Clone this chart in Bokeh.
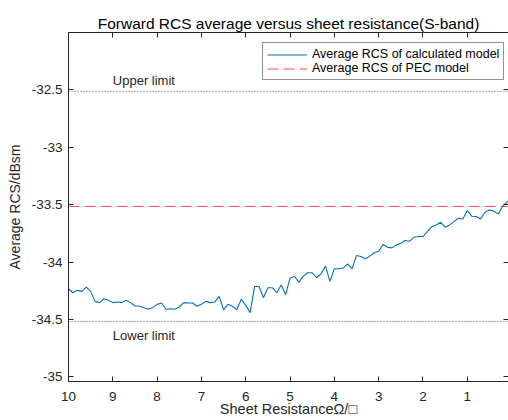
from bokeh.plotting import figure
from bokeh.models import (Range1d, FixedTicker, LinearAxis, Legend, LegendItem, Label,
                          CustomLabelingPolicy)
from bokeh.embed import file_html
from bokeh.resources import INLINE

# Sheet resistance sweep (ohm/sq), 10 down to 0 in steps of 0.1
sheet_resistance = [
    10.0, 9.9, 9.8, 9.7, 9.6, 9.5, 9.4, 9.3, 9.2, 9.1,
    9.0, 8.9, 8.8, 8.7, 8.6, 8.5, 8.4, 8.3, 8.2, 8.1,
    8.0, 7.9, 7.8, 7.7, 7.6, 7.5, 7.4, 7.3, 7.2, 7.1,
    7.0, 6.9, 6.8, 6.7, 6.6, 6.5, 6.4, 6.3, 6.2, 6.1,
    6.0, 5.9, 5.8, 5.7, 5.6, 5.5, 5.4, 5.3, 5.2, 5.1,
    5.0, 4.9, 4.8, 4.7, 4.6, 4.5, 4.4, 4.3, 4.2, 4.1,
    4.0, 3.9, 3.8, 3.7, 3.6, 3.5, 3.4, 3.3, 3.2, 3.1,
    3.0, 2.9, 2.8, 2.7, 2.6, 2.5, 2.4, 2.3, 2.2, 2.1,
    2.0, 1.9, 1.8, 1.7, 1.6, 1.5, 1.4, 1.3, 1.2, 1.1,
    1.0, 0.9, 0.8, 0.7, 0.6, 0.5, 0.4, 0.3, 0.2, 0.1,
    0.0,
]

# Average forward RCS of the calculated model (dBsm)
average_rcs = [
    -34.232, -34.267, -34.246, -34.255, -34.217, -34.255, -34.342, -34.353, -34.319, -34.333,
    -34.353, -34.348, -34.353, -34.333, -34.353, -34.382, -34.382, -34.397, -34.411, -34.397,
    -34.368, -34.356, -34.411, -34.406, -34.411, -34.391, -34.353, -34.356, -34.356, -34.385,
    -34.368, -34.342, -34.353, -34.348, -34.298, -34.414, -34.368, -34.385, -34.414, -34.324,
    -34.377, -34.440, -34.212, -34.212, -34.310, -34.223, -34.223, -34.267, -34.200, -34.284,
    -34.139, -34.125, -34.174, -34.122, -34.093, -34.093, -34.136, -34.102, -34.035, -34.168,
    -34.058, -34.058, -34.052, -34.015, -34.058, -33.942, -33.951, -33.971, -33.948, -33.919,
    -33.905, -33.847, -33.870, -33.876, -33.850, -33.835, -33.812, -33.818, -33.783, -33.777,
    -33.777, -33.734, -33.690, -33.676, -33.653, -33.696, -33.676, -33.647, -33.618, -33.624,
    -33.551, -33.600, -33.603, -33.624, -33.566, -33.545, -33.557, -33.580, -33.514, -33.473,
    -33.450,
]

# Reference levels (dBsm)
pec_rcs = -33.515
upper_limit = -32.512
lower_limit = -34.518

x_ticks = [10, 9, 8, 7, 6, 5, 4, 3, 2, 1, 0]
x_tick_labels = ["10", "9", "8", "7", "6", "5", "4", "3", "2", "1", "0"]
y_ticks = [-35.0, -34.5, -34.0, -33.5, -33.0, -32.5]
y_tick_labels = ["-35", "-34.5", "-34", "-33.5", "-33", "-32.5"]

FONT = "Liberation Sans"
INK = "#262626"

p = figure(width=508, height=420, output_backend="svg", toolbar_location=None,
           x_range=Range1d(10, 0.07), y_range=Range1d(-35.04, -32.0),
           min_border_left=68, min_border_right=0, min_border_top=32, min_border_bottom=39,
           title="Forward RCS average versus sheet resistance(S-band)")
p.background_fill_color = "white"
p.border_fill_color = "white"
p.outline_line_color = None
p.xgrid.visible = False
p.ygrid.visible = False

p.title.align = "center"
p.title.text_font = FONT
p.title.text_font_size = "15.5px"
p.title.text_font_style = "normal"
p.title.text_color = "black"
p.title.standoff = 2

# hides every label of the tick-only box axes
no_labels = CustomLabelingPolicy(code="""
for (const i of indices) { indices.unset(i) }
return indices
""")


def style_axis(ax, ticks, labels=None, show_labels=True):
    ax.ticker = FixedTicker(ticks=ticks)
    if labels is not None:
        ax.major_label_overrides = {t: s for t, s in zip(ticks, labels)}
    ax.major_tick_in = 5
    ax.major_tick_out = 0
    ax.minor_tick_in = 0
    ax.minor_tick_out = 0
    ax.axis_line_color = INK
    ax.major_tick_line_color = INK
    ax.major_label_text_color = INK
    ax.major_label_text_font = FONT
    ax.major_label_text_font_size = "13.5px"
    if not show_labels:
        ax.major_label_text_font_size = "0px"
        ax.major_label_standoff = 0
        ax.major_label_policy = no_labels


xa = p.xaxis[0]
style_axis(xa, x_ticks, x_tick_labels)
xa.major_label_standoff = 10
xa.axis_label = "Sheet ResistanceΩ/□"
xa.axis_label_text_font = FONT
xa.axis_label_text_font_size = "14.5px"
xa.axis_label_text_font_style = "normal"
xa.axis_label_text_color = INK
xa.axis_label_standoff = -3

ya = p.yaxis[0]
style_axis(ya, y_ticks, y_tick_labels)
ya.major_label_standoff = 6
ya.axis_label = "Average RCS/dBsm"
ya.axis_label_text_font = FONT
ya.axis_label_text_font_size = "14px"
ya.axis_label_text_font_style = "normal"
ya.axis_label_text_color = INK
ya.axis_label_standoff = 6

# Box-style ticks on the top and right edges
top_ax = LinearAxis()
style_axis(top_ax, x_ticks, show_labels=False)
p.add_layout(top_ax, "above")
right_ax = LinearAxis()
style_axis(right_ax, y_ticks, show_labels=False)
right_ax.axis_line_color = None
p.add_layout(right_ax, "right")

x_ends = [sheet_resistance[0], sheet_resistance[-1]]

p.line(x_ends, [upper_limit, upper_limit], line_color="#555555", line_width=1, line_dash="1 2")
p.line(x_ends, [lower_limit, lower_limit], line_color="#555555", line_width=1, line_dash="1 2")
pec_line = p.line(x_ends, [pec_rcs, pec_rcs], line_color="#ff4848", line_width=1, line_dash="11 5")
calc_line = p.line(sheet_resistance, average_rcs, line_color="#0072BD", line_width=1.1)

p.add_layout(Label(x=9.0, y=-32.416, text="Upper limit", text_font=FONT, text_font_size="13px",
                   text_color=INK, text_baseline="middle", text_align="left"))
p.add_layout(Label(x=9.0, y=-34.643, text="Lower limit", text_font=FONT, text_font_size="13px",
                   text_color=INK, text_baseline="middle", text_align="left"))

legend = Legend(items=[
    LegendItem(label="Average RCS of calculated model", renderers=[calc_line]),
    LegendItem(label="Average RCS of PEC model", renderers=[pec_line]),
])
legend.location = (194, 301)
legend.padding = 4
legend.spacing = 0
legend.margin = 0
legend.glyph_width = 40
legend.glyph_height = 13
legend.label_height = 13
legend.label_standoff = 5
legend.label_text_font = FONT
legend.label_text_font_size = "12.5px"
legend.label_text_color = "black"
legend.border_line_color = INK
legend.border_line_width = 1
legend.background_fill_color = "white"
legend.background_fill_alpha = 1
p.add_layout(legend, "center")

open("out.html", "w").write(file_html(p, INLINE))
